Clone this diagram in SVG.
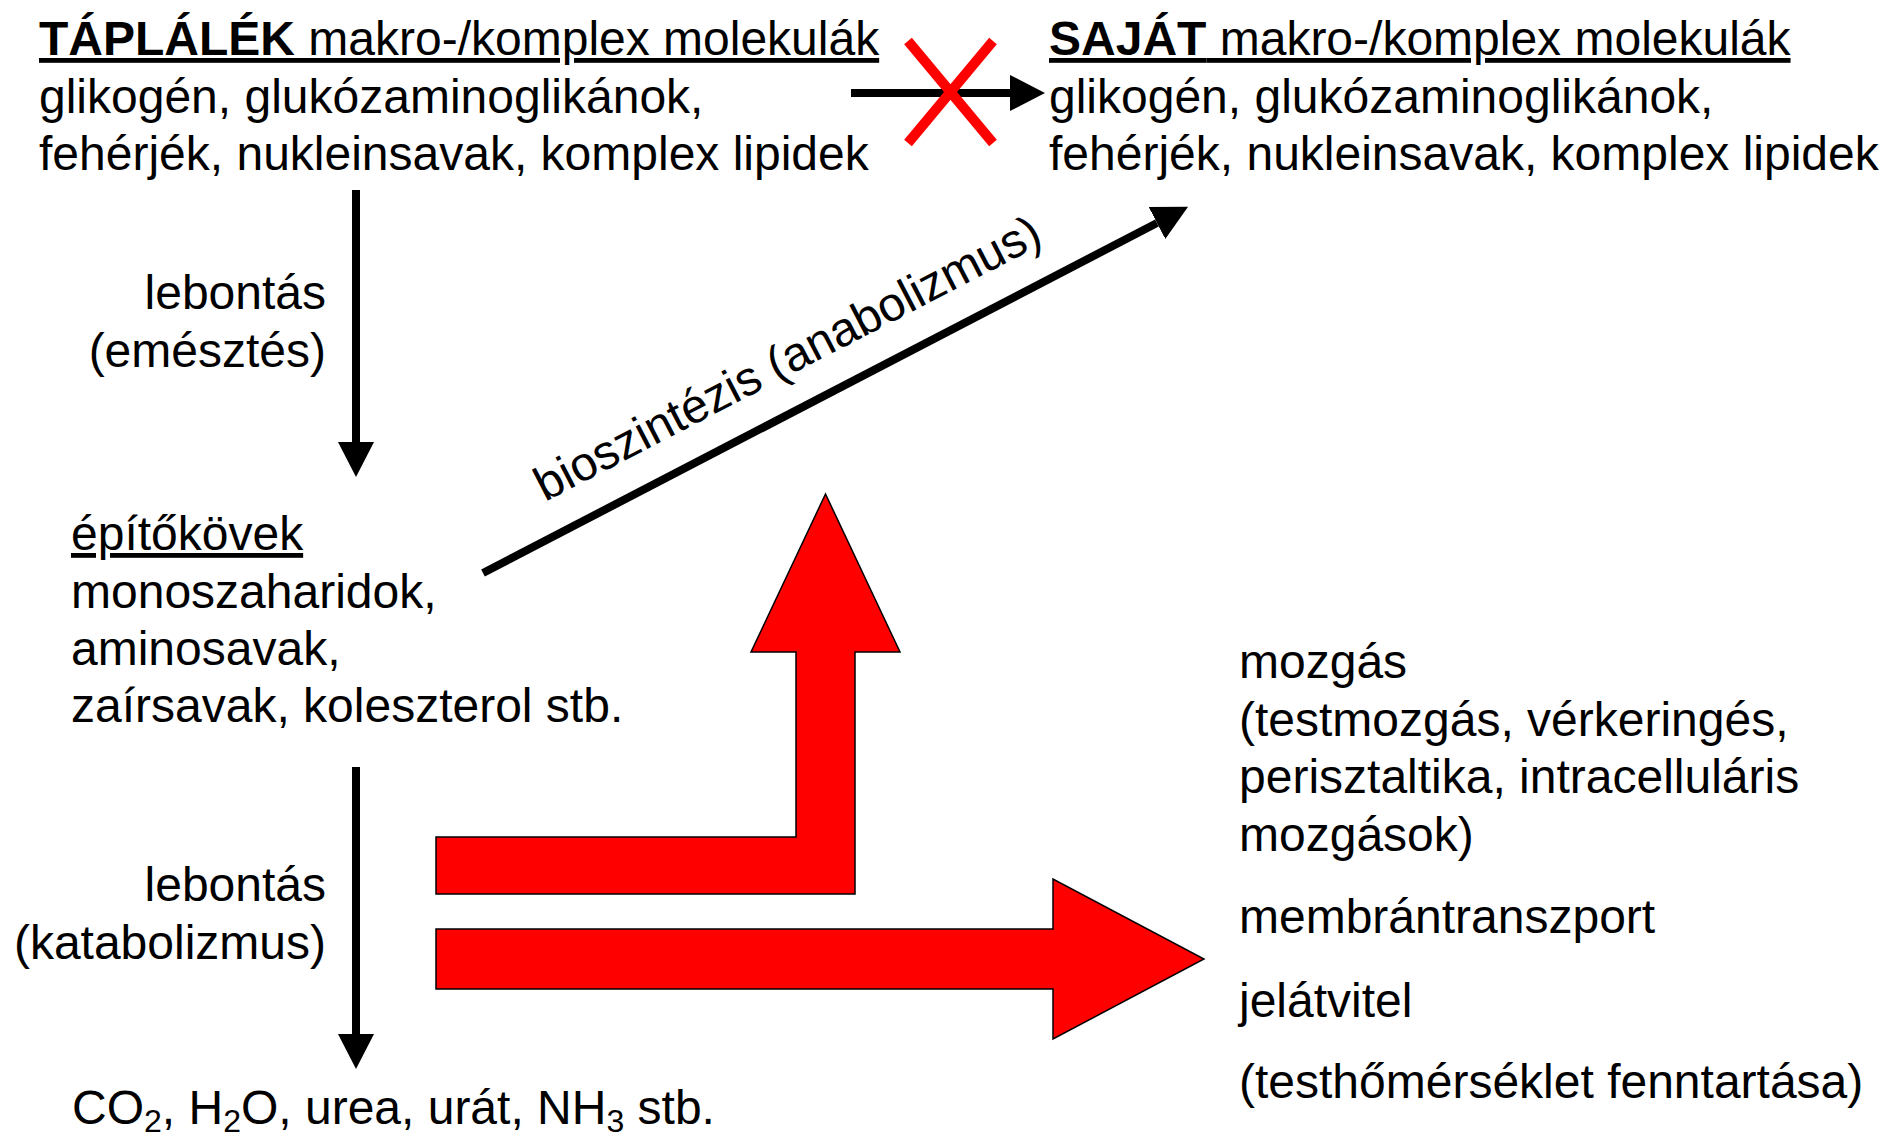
<svg xmlns="http://www.w3.org/2000/svg" width="1898" height="1137" viewBox="0 0 1898 1137">
<defs>
<style>
text{font-family:"Liberation Sans",Arial,sans-serif;font-size:48px;fill:#000}
.b{font-weight:bold}
.u{text-decoration:underline}
.sub{font-size:32px}
.conn{stroke:#000;stroke-width:8;fill:none}
.red{fill:#FF0000;stroke:#000;stroke-width:1.5}
.x{stroke:#FF0000;stroke-width:10;fill:none}
</style>
<marker id="ah" markerUnits="userSpaceOnUse" markerWidth="36" markerHeight="38" refX="0" refY="18" orient="auto" viewBox="0 0 36 36">
<path d="M0,0 L35,18 L0,36 Z" fill="#000"/>
</marker>
</defs>
<rect width="1898" height="1137" fill="#fff"/>
<g id="taplalek">
<text x="39" y="55" class="u"><tspan class="b">TÁPLÁLÉK</tspan> makro-/komplex molekulák</text>
<text x="39" y="113">glikogén, glukózaminoglikánok,</text>
<text x="39" y="170">fehérjék, nukleinsavak, komplex lipidek</text>
</g>
<g id="sajat">
<text x="1049" y="55" class="u"><tspan class="b">SAJÁT</tspan> makro-/komplex molekulák</text>
<text x="1049" y="113">glikogén, glukózaminoglikánok,</text>
<text x="1049" y="170">fehérjék, nukleinsavak, komplex lipidek</text>
</g>
<g id="epitokovek">
<text x="71" y="550" class="u">építőkövek</text>
<text x="71" y="608">monoszaharidok,</text>
<text x="71" y="665">aminosavak,</text>
<text x="71" y="722">zaírsavak, koleszterol stb.</text>
</g>
<g id="vegtermekek">
<text x="72" y="1124">CO<tspan class="sub" dy="8">2</tspan><tspan dy="-8">, H</tspan><tspan class="sub" dy="8">2</tspan><tspan dy="-8">O, urea, urát, NH</tspan><tspan class="sub" dy="8">3</tspan><tspan dy="-8"> stb.</tspan></text>
</g>
<g id="felhasznalas">
<text x="1239" y="678">mozgás</text>
<text x="1239" y="736">(testmozgás, vérkeringés,</text>
<text x="1239" y="793">perisztaltika, intracelluláris</text>
<text x="1239" y="851">mozgások)</text>
<text x="1239" y="933">membrántranszport</text>
<text x="1239" y="1017">jelátvitel</text>
<text x="1239" y="1098">(testhőmérséklet fenntartása)</text>
</g>
<g id="connectors">
<line class="conn" x1="356" y1="190" x2="356" y2="442" marker-end="url(#ah)"/>
<line class="conn" x1="356" y1="767" x2="356" y2="1034" marker-end="url(#ah)"/>
<line class="conn" x1="851" y1="93" x2="1010" y2="93" marker-end="url(#ah)"/>
<line class="conn" x1="483" y1="573" x2="1157" y2="223" marker-end="url(#ah)"/>
<line class="x" x1="908" y1="41" x2="993" y2="143"/>
<line class="x" x1="993" y1="41" x2="908" y2="143"/>
<polygon class="red" points="436,837 796,837 796,652 751,652 825.5,494 900,652 855,652 855,894 436,894"/>
<polygon class="red" points="436,929 1053,929 1053,879 1204,959 1053,1039 1053,989 436,989"/>
</g>
<g id="labels">
<text x="326" y="309" text-anchor="end">lebontás</text>
<text x="326" y="367" text-anchor="end">(emésztés)</text>
<text x="326" y="901" text-anchor="end">lebontás</text>
<text x="326" y="959" text-anchor="end">(katabolizmus)</text>
<text transform="translate(545,502) rotate(-27.4)">bioszintézis (anabolizmus)</text>
</g>
</svg>
